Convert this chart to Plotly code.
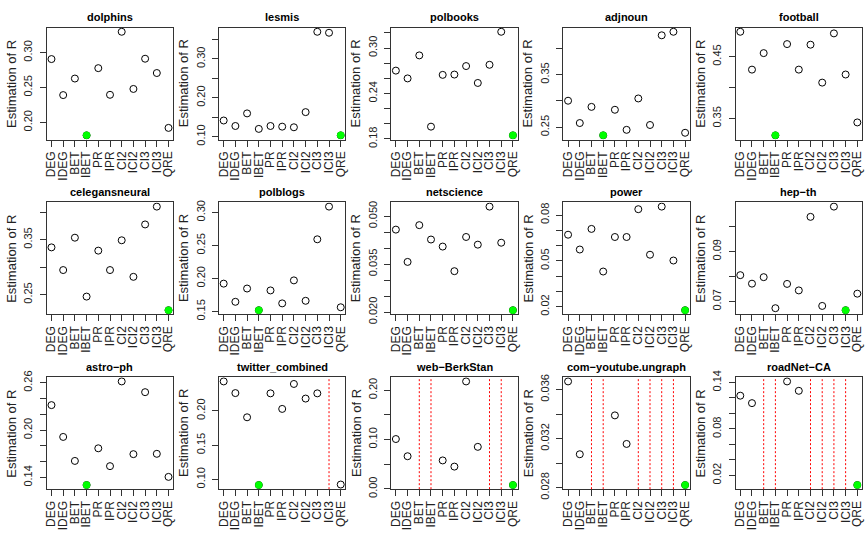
import plotly.graph_objects as go

methods = ["DEG", "IDEG", "BET", "IBET", "PR", "IPR", "CI2", "ICI2", "CI3", "ICI3", "QRE"]

networks = ["dolphins", "lesmis", "polbooks", "adjnoun", "football",
            "celegansneural", "polblogs", "netscience", "power", "hep\u2212th",
            "astro\u2212ph", "twitter_combined", "web\u2212BerkStan",
            "com\u2212youtube.ungraph", "roadNet\u2212CA"]

# estimated R for each method (None = not available)
dolphins = [0.2907, 0.2391, 0.2628, 0.1814, 0.2777, 0.2395, 0.3298, 0.2479, 0.2912, 0.2707, 0.1921]
lesmis = [0.1415, 0.1274, 0.1598, 0.1199, 0.1274, 0.1257, 0.1241, 0.1631, 0.3697, 0.3672, 0.1033]
polbooks = [0.2702, 0.2599, 0.2903, 0.1962, 0.2646, 0.2650, 0.2762, 0.2539, 0.2779, 0.3215, 0.1847]
adjnoun = [0.3004, 0.2580, 0.2887, 0.2346, 0.2832, 0.2451, 0.3047, 0.2543, 0.4247, 0.4314, 0.2395]
football = [0.4903, 0.4291, 0.4558, 0.3228, 0.4704, 0.4291, 0.4694, 0.4081, 0.4877, 0.4212, 0.3437]
celegansneural = [0.3359, 0.2947, 0.3535, 0.2465, 0.3300, 0.2947, 0.3488, 0.2824, 0.3776, 0.4100, 0.2218]
polblogs = [0.1922, 0.1647, 0.1848, 0.1520, 0.1819, 0.1623, 0.1971, 0.1662, 0.2593, 0.3088, 0.1564]
netscience = [0.0458, 0.0357, 0.0472, 0.0427, 0.0405, 0.0328, 0.0435, 0.0411, 0.0530, 0.0417, 0.0206]
power = [0.0671, 0.0574, 0.0709, 0.0430, 0.0656, 0.0656, 0.0838, 0.0540, 0.0855, 0.0502, 0.0177]
hep_th = [0.0805, 0.0771, 0.0797, 0.0673, 0.0770, 0.0744, 0.1038, 0.0682, 0.1079, 0.0665, 0.0731]
astro_ph = [0.2317, 0.1914, 0.1610, 0.1305, 0.1770, 0.1544, 0.2617, 0.1696, 0.2481, 0.1700, 0.1408]
twitter_combined = [0.2429, 0.2259, 0.1906, 0.0918, 0.2255, 0.2028, 0.2392, 0.2179, 0.2255, None, 0.0925]
web_berkstan = [0.1010, 0.0662, None, None, 0.0577, 0.0452, 0.2177, 0.0852, None, None, 0.0079]
com_youtube = [0.03666, 0.03072, None, None, 0.03389, 0.03156, None, None, None, None, 0.02821]
roadnet_ca = [0.1228, 0.1132, None, None, 0.1412, 0.1291, None, None, None, None, 0.0075]

values = [dolphins, lesmis, polbooks, adjnoun, football, celegansneural, polblogs,
          netscience, power, hep_th, astro_ph, twitter_combined, web_berkstan,
          com_youtube, roadnet_ca]

# y tick positions and which of them carry a label
dolphins_ticks = [0.20, 0.25, 0.30]
lesmis_ticks = [0.10, 0.15, 0.20, 0.25, 0.30, 0.35]
polbooks_ticks = [0.18, 0.20, 0.22, 0.24, 0.26, 0.28, 0.30, 0.32]
adjnoun_ticks = [0.25, 0.30, 0.35, 0.40]
football_ticks = [0.35, 0.40, 0.45]
celegansneural_ticks = [0.25, 0.30, 0.35, 0.40]
polblogs_ticks = [0.15, 0.20, 0.25, 0.30]
netscience_ticks = [0.020, 0.025, 0.030, 0.035, 0.040, 0.045, 0.050]
power_ticks = [0.02, 0.03, 0.04, 0.05, 0.06, 0.07, 0.08]
hep_th_ticks = [0.07, 0.08, 0.09, 0.10]
astro_ph_ticks = [0.14, 0.16, 0.18, 0.20, 0.22, 0.24, 0.26]
twitter_ticks = [0.10, 0.15, 0.20]
web_berkstan_ticks = [0.00, 0.05, 0.10, 0.15, 0.20]
com_youtube_ticks = [0.028, 0.030, 0.032, 0.034, 0.036]
roadnet_ticks = [0.02, 0.04, 0.06, 0.08, 0.10, 0.12, 0.14]

dolphins_labels = ["0.20", "0.25", "0.30"]
lesmis_labels = ["0.10", "0.20", "0.30"]
polbooks_labels = ["0.18", "0.24", "0.30"]
adjnoun_labels = ["0.25", "0.35"]
football_labels = ["0.35", "0.45"]
celegansneural_labels = ["0.25", "0.35"]
polblogs_labels = ["0.15", "0.20", "0.25", "0.30"]
netscience_labels = ["0.020", "0.035", "0.050"]
power_labels = ["0.02", "0.05", "0.08"]
hep_th_labels = ["0.07", "0.09"]
astro_ph_labels = ["0.14", "0.20", "0.26"]
twitter_labels = ["0.10", "0.15", "0.20"]
web_berkstan_labels = ["0.00", "0.10", "0.20"]
com_youtube_labels = ["0.028", "0.032", "0.036"]
roadnet_labels = ["0.02", "0.08", "0.14"]

ticks = [dolphins_ticks, lesmis_ticks, polbooks_ticks, adjnoun_ticks, football_ticks,
         celegansneural_ticks, polblogs_ticks, netscience_ticks, power_ticks, hep_th_ticks,
         astro_ph_ticks, twitter_ticks, web_berkstan_ticks, com_youtube_ticks, roadnet_ticks]
labels = [dolphins_labels, lesmis_labels, polbooks_labels, adjnoun_labels, football_labels,
          celegansneural_labels, polblogs_labels, netscience_labels, power_labels, hep_th_labels,
          astro_ph_labels, twitter_labels, web_berkstan_labels, com_youtube_labels, roadnet_labels]

W, H = 865, 541
FONT = "Liberation Sans, Arial, sans-serif"

fig = go.Figure()
shapes = []
annotations = []
axes = {}

for i, (name, vals) in enumerate(zip(networks, values)):
    r, c = divmod(i, 5)
    sfx = "" if i == 0 else str(i + 1)
    left, right = 45 + 173 * c, 172 + 173 * c
    top = 21.3 + 180.5 * r
    bot = top + 115.5

    present = [v for v in vals if v is not None]
    lo, hi = min(present), max(present)
    pad = 0.04 * (hi - lo)
    best = vals.index(lo)

    fig.add_trace(go.Scatter(
        x=methods, y=vals, mode="markers", xaxis="x" + sfx, yaxis="y" + sfx,
        marker=dict(symbol="circle-open", size=7, color="black", line=dict(width=1))))
    fig.add_trace(go.Scatter(
        x=[methods[best]], y=[lo], mode="markers", xaxis="x" + sfx, yaxis="y" + sfx,
        marker=dict(symbol="circle", size=7.5, color="#00FF00", line=dict(width=0))))

    dec = len(labels[i][0].split(".")[1])
    ttext = [f"{t:.{dec}f}" if f"{t:.{dec}f}" in labels[i] else "" for t in ticks[i]]

    common = dict(showline=True, mirror=True, linecolor="#333333", linewidth=1,
                  ticks="outside", ticklen=6, tickcolor="#333333", showgrid=False,
                  zeroline=False, tickangle=-90)
    axes["xaxis" + sfx] = dict(common, type="category", categoryarray=methods,
                               tickmode="linear", tick0=0, dtick=1,
                               tickfont=dict(family=FONT, size=12, color="#222222"),
                               range=[-0.4, 10.4], anchor="y" + sfx,
                               domain=[left / W, right / W])
    axes["yaxis" + sfx] = dict(common, range=[lo - pad, hi + pad], anchor="x" + sfx,
                               tickvals=ticks[i], ticktext=ttext, ticklabelstandoff=3,
                               tickfont=dict(family=FONT, size=11, color="#222222"),
                               domain=[1 - bot / H, 1 - top / H])

    # methods with no estimate get a red dashed marker line
    for j, v in enumerate(vals):
        if v is None:
            shapes.append(dict(type="line", xref="x" + sfx, yref=f"y{sfx} domain",
                               x0=j, x1=j, y0=0, y1=1,
                               line=dict(color="#FF0000", width=1, dash="2px,2px")))

    annotations.append(dict(text=f"<b>{name}</b>", xref="paper", yref="paper",
                            x=(left + right) / 2 / W, y=1 - (top - 10.5) / H,
                            showarrow=False, xanchor="center", yanchor="middle",
                            font=dict(family=FONT, size=11, color="black")))
    annotations.append(dict(text="Estimation of R", xref="paper", yref="paper",
                            x=(9.5 + 173 * c) / W, y=1 - (top + bot) / 2 / H,
                            textangle=-90, showarrow=False, xanchor="center",
                            yanchor="middle",
                            font=dict(family=FONT, size=13, color="#222222")))

fig.update_layout(width=W, height=H, margin=dict(l=0, r=0, t=0, b=0),
                  plot_bgcolor="white", paper_bgcolor="white", showlegend=False,
                  shapes=shapes, annotations=annotations, **axes)

fig.write_html("out.html", config={"displayModeBar": False},
               post_script="document.body.style.margin='0';")
